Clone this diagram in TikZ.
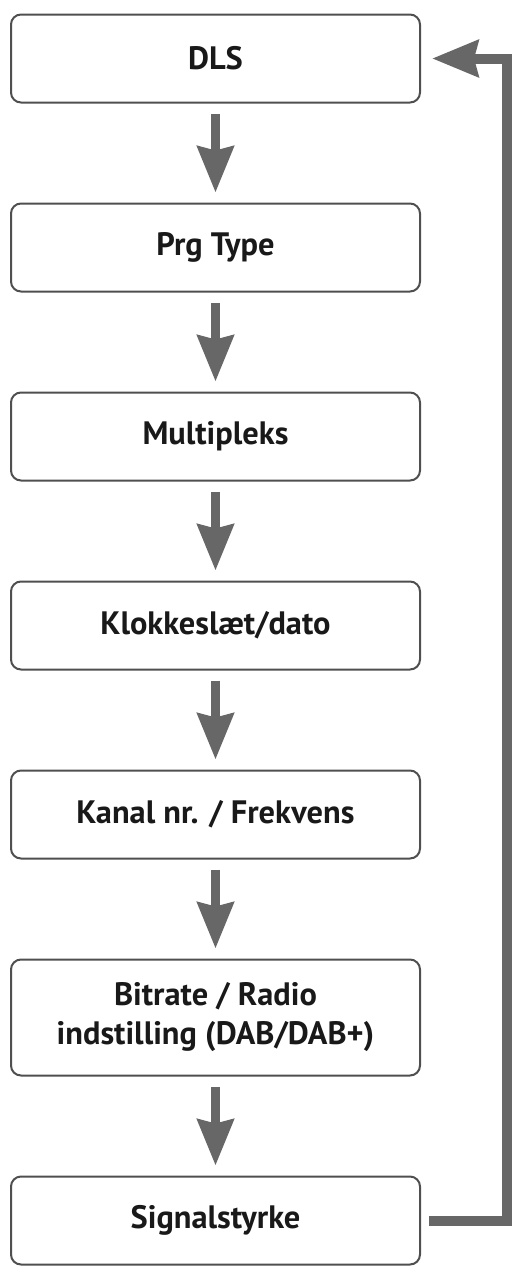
\documentclass[tikz,border=0pt]{standalone}
\usepackage{fontspec}
\setmainfont{PT Sans}
\usetikzlibrary{positioning,arrows.meta}

\definecolor{boxline}{HTML}{4F4F4F}
\definecolor{flowgray}{HTML}{676767}

\tikzset{
	menubox/.style={draw=boxline, line width=1pt, rounded corners=5pt, fill=white,
		minimum width=204.5pt, minimum height=44pt, align=center,
		font=\fontsize{16.2}{19.5}\selectfont\bfseries, text=black!90},
	flow/.style={draw=flowgray, line width=4.5pt,
		-{Stealth[length=23pt, width=18pt, inset=2pt]}},
}

\begin{document}
\begin{tikzpicture}[node distance=49.5pt]
	\useasboundingbox (0,0) rectangle (258.5pt,-635pt);
	
	\node[menubox] (dls) at (107.75pt,-29.25pt) {DLS};
	\node[menubox, below=of dls] (prg) {Prg Type};
	\node[menubox, below=of prg] (mux) {Multipleks};
	\node[menubox, below=of mux] (klok) {Klokkeslæt/dato};
	\node[menubox, below=of klok] (kanal) {Kanal nr. / Frekvens};
	\node[menubox, below=of kanal, minimum height=58pt] (bitrate) {Bitrate / Radio\\indstilling (DAB/DAB+)};
	\node[menubox, below=of bitrate] (signal) {Signalstyrke};
	
	\foreach \a/\b in {dls/prg,prg/mux,mux/klok,klok/kanal,kanal/bitrate,bitrate/signal}{
		\draw[flow, shorten <=5pt, shorten >=5pt] (\a.south) -- (\b.north);}
	
	% feedback line back to the top
	\draw[flow, line width=5pt] ([xshift=4pt]signal.east) -- ([xshift=43pt]signal.east) |- ([xshift=5.5pt]dls.east);
\end{tikzpicture}
\end{document}
